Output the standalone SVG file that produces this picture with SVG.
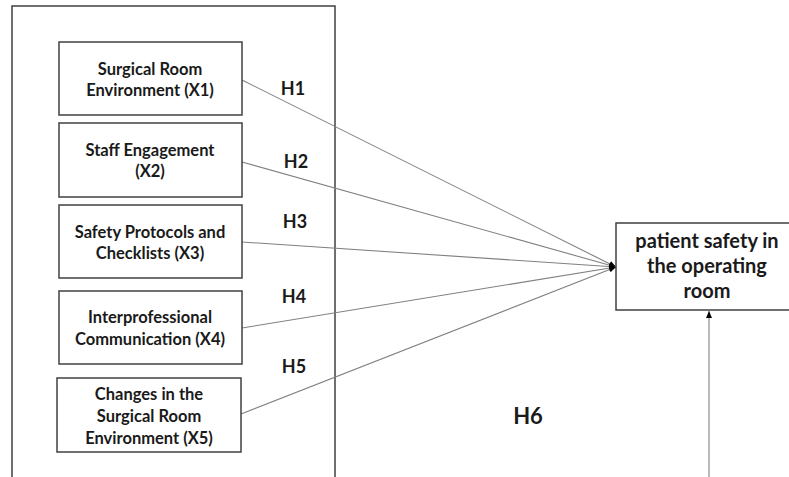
<svg xmlns="http://www.w3.org/2000/svg" width="789" height="477" viewBox="0 0 789 477">
<style>
.box{fill:#fff;stroke:#404040;stroke-width:1.5}
.t{font-family:Lato,"Liberation Sans",sans-serif;font-weight:bold;font-size:16.5px;fill:#1a1a1a;text-anchor:middle}
.tb{font-family:Lato,"Liberation Sans",sans-serif;font-weight:bold;font-size:20px;fill:#1a1a1a;text-anchor:middle}
.h{font-family:Lato,"Liberation Sans",sans-serif;font-weight:bold;font-size:18px;fill:#1a1a1a;text-anchor:middle}
.c{fill:none;stroke:#808080;stroke-width:1.1}
</style>
<defs>
<marker id="ah" markerWidth="8" markerHeight="8" refX="7" refY="4" orient="auto" markerUnits="userSpaceOnUse">
<path d="M0,1 L7,4 L0,7 Z" fill="#000"/>
</marker>
</defs>
<rect x="12" y="6" width="323" height="480" fill="none" stroke="#404040" stroke-width="1.5"/>
<g id="connectors">
<line class="c" x1="242" y1="80" x2="616" y2="267" marker-end="url(#ah)"/>
<line class="c" x1="242" y1="162" x2="616" y2="267" marker-end="url(#ah)"/>
<line class="c" x1="242" y1="242" x2="616" y2="267" marker-end="url(#ah)"/>
<line class="c" x1="242" y1="328" x2="616" y2="267" marker-end="url(#ah)"/>
<line class="c" x1="241" y1="414" x2="616" y2="267" marker-end="url(#ah)"/>
<line class="c" x1="709" y1="477" x2="709" y2="311" marker-end="url(#ah)"/>
</g>
<g id="x1">
<rect class="box" x="59" y="42" width="183" height="73"/>
<text class="t" x="150" y="75">Surgical Room</text>
<text class="t" x="150" y="96">Environment (X1)</text>
</g>
<g id="x2">
<rect class="box" x="59" y="123" width="183" height="74"/>
<text class="t" x="150" y="156">Staff Engagement</text>
<text class="t" x="150" y="177">(X2)</text>
</g>
<g id="x3">
<rect class="box" x="59" y="205" width="183" height="73"/>
<text class="t" x="150" y="238">Safety Protocols and</text>
<text class="t" x="150" y="259">Checklists (X3)</text>
</g>
<g id="x4">
<rect class="box" x="59" y="291" width="183" height="73"/>
<text class="t" x="150" y="323">Interprofessional</text>
<text class="t" x="150" y="345">Communication (X4)</text>
</g>
<g id="x5">
<rect class="box" x="57" y="378" width="184" height="74"/>
<text class="t" x="149" y="400">Changes in the</text>
<text class="t" x="149" y="422">Surgical Room</text>
<text class="t" x="149" y="444">Environment (X5)</text>
</g>
<g id="y">
<rect class="box" x="616" y="223" width="190" height="87"/>
<text class="tb" x="707" y="248">patient safety in</text>
<text class="tb" x="707" y="273">the operating</text>
<text class="tb" x="707" y="298">room</text>
</g>
<g id="labels">
<text class="h" x="293" y="95">H1</text>
<text class="h" x="296" y="168">H2</text>
<text class="h" x="295" y="228">H3</text>
<text class="h" x="294" y="303">H4</text>
<text class="h" x="294" y="373">H5</text>
<text class="h" x="528" y="424" style="font-size:22px">H6</text>
</g>
</svg>
